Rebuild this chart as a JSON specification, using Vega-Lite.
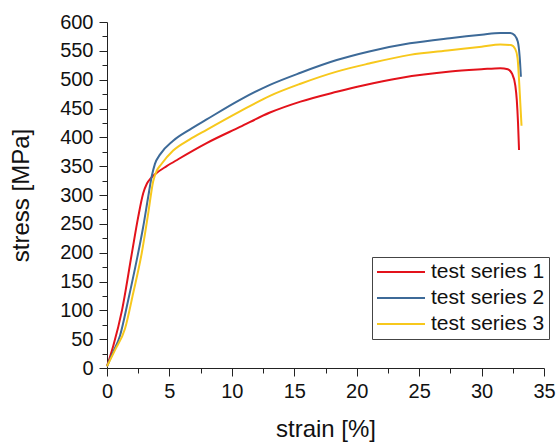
{
  "$schema": "https://vega.github.io/schema/vega-lite/v6.json",
  "autosize": {"type": "none"},
  "padding": {"left": 107, "top": 22, "right": 15, "bottom": 77},
  "width": 437,
  "height": 346,
  "background": "white",
  "config": {
    "view": {"stroke": null},
    "font": "Liberation Sans",
    "axis": {
      "domainColor": "#222",
      "tickColor": "#222",
      "labelColor": "#111",
      "titleColor": "#111",
      "labelFont": "Liberation Sans",
      "titleFont": "Liberation Sans",
      "labelFontSize": 20,
      "titleFontSize": 24,
      "titleFontWeight": "normal",
      "grid": false,
      "domainWidth": 1,
      "tickWidth": 1
    }
  },
  "data": {
    "values": [
      {"s": "test series 1", "x": 0, "y": 3},
      {"s": "test series 1", "x": 0.5, "y": 38},
      {"s": "test series 1", "x": 1.2, "y": 100},
      {"s": "test series 1", "x": 2.0, "y": 200},
      {"s": "test series 1", "x": 2.5, "y": 262},
      {"s": "test series 1", "x": 2.9, "y": 303},
      {"s": "test series 1", "x": 3.2, "y": 320},
      {"s": "test series 1", "x": 3.5, "y": 329},
      {"s": "test series 1", "x": 3.9, "y": 337},
      {"s": "test series 1", "x": 4.78, "y": 350},
      {"s": "test series 1", "x": 5.7, "y": 362},
      {"s": "test series 1", "x": 7.98, "y": 390},
      {"s": "test series 1", "x": 10.65, "y": 418},
      {"s": "test series 1", "x": 13.05, "y": 443},
      {"s": "test series 1", "x": 15.5, "y": 462},
      {"s": "test series 1", "x": 18.4, "y": 479},
      {"s": "test series 1", "x": 20.5, "y": 490},
      {"s": "test series 1", "x": 23.5, "y": 503},
      {"s": "test series 1", "x": 27.5, "y": 514},
      {"s": "test series 1", "x": 30, "y": 518},
      {"s": "test series 1", "x": 31.5, "y": 520},
      {"s": "test series 1", "x": 32.1, "y": 518},
      {"s": "test series 1", "x": 32.45, "y": 510},
      {"s": "test series 1", "x": 32.7, "y": 490},
      {"s": "test series 1", "x": 32.82, "y": 465},
      {"s": "test series 1", "x": 32.92, "y": 425},
      {"s": "test series 1", "x": 33.0, "y": 378},

      {"s": "test series 2", "x": 0, "y": 3},
      {"s": "test series 2", "x": 0.5, "y": 28},
      {"s": "test series 2", "x": 1.04, "y": 56},
      {"s": "test series 2", "x": 1.7, "y": 118},
      {"s": "test series 2", "x": 2.38, "y": 187},
      {"s": "test series 2", "x": 2.9, "y": 245},
      {"s": "test series 2", "x": 3.3, "y": 297},
      {"s": "test series 2", "x": 3.58, "y": 332},
      {"s": "test series 2", "x": 3.84, "y": 354},
      {"s": "test series 2", "x": 4.24, "y": 370},
      {"s": "test series 2", "x": 5.3, "y": 394},
      {"s": "test series 2", "x": 6.6, "y": 413},
      {"s": "test series 2", "x": 7.98, "y": 431},
      {"s": "test series 2", "x": 10.65, "y": 465},
      {"s": "test series 2", "x": 13.05, "y": 491},
      {"s": "test series 2", "x": 15.5, "y": 512},
      {"s": "test series 2", "x": 18.4, "y": 534},
      {"s": "test series 2", "x": 21, "y": 549},
      {"s": "test series 2", "x": 24.26, "y": 563},
      {"s": "test series 2", "x": 27.46, "y": 572},
      {"s": "test series 2", "x": 30, "y": 578},
      {"s": "test series 2", "x": 31.5, "y": 581},
      {"s": "test series 2", "x": 32.3, "y": 581},
      {"s": "test series 2", "x": 32.65, "y": 577},
      {"s": "test series 2", "x": 32.9, "y": 566},
      {"s": "test series 2", "x": 33.05, "y": 540},
      {"s": "test series 2", "x": 33.15, "y": 505},

      {"s": "test series 3", "x": 0, "y": 3},
      {"s": "test series 3", "x": 0.64, "y": 31},
      {"s": "test series 3", "x": 1.44, "y": 68},
      {"s": "test series 3", "x": 2.1, "y": 130},
      {"s": "test series 3", "x": 2.78, "y": 199},
      {"s": "test series 3", "x": 3.3, "y": 268},
      {"s": "test series 3", "x": 3.7, "y": 324},
      {"s": "test series 3", "x": 3.98, "y": 342},
      {"s": "test series 3", "x": 4.3, "y": 352},
      {"s": "test series 3", "x": 5.3, "y": 377},
      {"s": "test series 3", "x": 6.6, "y": 396},
      {"s": "test series 3", "x": 7.98, "y": 413},
      {"s": "test series 3", "x": 10.65, "y": 445},
      {"s": "test series 3", "x": 13.05, "y": 472},
      {"s": "test series 3", "x": 15.5, "y": 493},
      {"s": "test series 3", "x": 18.4, "y": 514},
      {"s": "test series 3", "x": 21, "y": 528},
      {"s": "test series 3", "x": 24.26, "y": 543},
      {"s": "test series 3", "x": 27.46, "y": 551},
      {"s": "test series 3", "x": 30, "y": 557},
      {"s": "test series 3", "x": 31.5, "y": 561},
      {"s": "test series 3", "x": 32.35, "y": 560},
      {"s": "test series 3", "x": 32.7, "y": 553},
      {"s": "test series 3", "x": 32.88, "y": 538},
      {"s": "test series 3", "x": 33.0, "y": 500},
      {"s": "test series 3", "x": 33.1, "y": 460},
      {"s": "test series 3", "x": 33.2, "y": 420}
    ]
  },
  "mark": {"type": "line", "strokeWidth": 2, "clip": false, "interpolate": "monotone"},
  "encoding": {
    "x": {
      "field": "x", "type": "quantitative",
      "scale": {"domain": [0, 35], "nice": false, "zero": false},
      "axis": {
        "title": "strain [%]",
        "values": [0, 2.5, 5, 7.5, 10, 12.5, 15, 17.5, 20, 22.5, 25, 27.5, 30, 32.5, 35],
        "labelExpr": "datum.value % 5 === 0 ? datum.label : ''",
        "tickSize": {"condition": {"test": "datum.value % 5 === 0", "value": 8}, "value": 5},
        "labelPadding": 5,
        "titlePadding": 16,
        "labelFlush": false
      }
    },
    "y": {
      "field": "y", "type": "quantitative",
      "scale": {"domain": [0, 600], "nice": false},
      "axis": {
        "title": "stress [MPa]",
        "values": [0, 25, 50, 75, 100, 125, 150, 175, 200, 225, 250, 275, 300, 325, 350, 375, 400, 425, 450, 475, 500, 525, 550, 575, 600],
        "labelExpr": "datum.value % 50 === 0 ? datum.label : ''",
        "tickSize": {"condition": {"test": "datum.value % 50 === 0", "value": 8}, "value": 5},
        "labelPadding": 6,
        "titlePadding": 26,
        "labelFlush": false
      }
    },
    "color": {
      "field": "s", "type": "nominal",
      "scale": {
        "domain": ["test series 1", "test series 2", "test series 3"],
        "range": ["#e3121b", "#3d6a98", "#f7c81c"]
      },
      "legend": {
        "title": null,
        "orient": "none",
        "legendX": 265,
        "legendY": 235,
        "symbolType": "stroke",
        "symbolSize": 2304,
        "symbolStrokeWidth": 2,
        "clipHeight": 22,
        "rowPadding": 4,
        "labelFontSize": 21,
        "labelFont": "Liberation Sans",
        "labelColor": "#111",
        "labelOffset": 5,
        "padding": 4,
        "strokeColor": "#444",
        "fillColor": "white",
        "labelLimit": 250
      }
    }
  }
}
